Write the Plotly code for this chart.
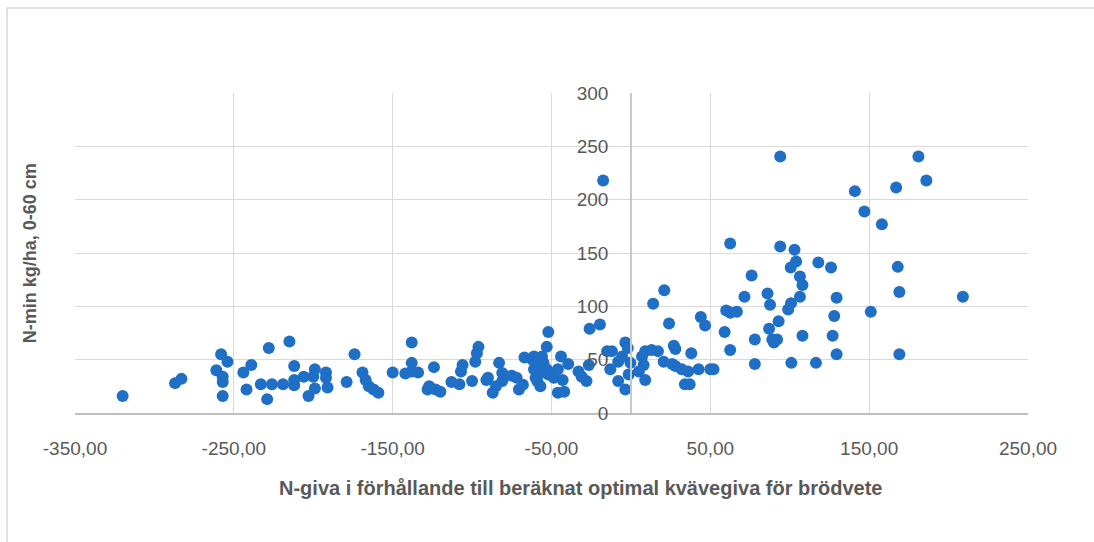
import plotly.graph_objects as go

# N-giva relative to calculated optimum (kg N/ha) and measured N-min (kg/ha, 0-60 cm)
n_giva_diff = [
    -320, -287, -283, -258, -254, -261, -257, -257, -257, -244, -239, -242,
    -233, -228, -229, -215, -226, -219, -212, -212, -212, -206, -200, -199,
    -203, -199, -192, -192, -191, -179, -174, -169, -167, -165, -162, -159,
    -150, -142, -138, -138, -138, -134, -128, -124, -127, -123, -120, -113,
    -107, -106, -108, -100, -98, -97, -96, -91, -90, -87, -85, -83,
    -81, -81, -75, -72, -70.5, -68, -67, -62, -61, -61, -60, -59,
    -56, -57, -59, -57, -55, -53, -52, -52, -53, -48.5, -46, -43,
    -44, -39.5, -46, -42, -33, -31, -28, -26.5, -26, -19.5, -17.5, -15,
    -12, -13, -8, -5.5, -8, -3.5, -3.5, -2, -0.3, -1.4, 7, 8,
    5, 9,
    9, 13, 17, 14, 21, 24, 20.6, 26, 28, 27, 28, 32,
    36, 34, 37, 38, 42.6, 44, 46.7, 50, 52, 59, 60, 62.5,
    66.7, 62.5, 62.5, 71.5, 76, 78, 78, 86, 87.6, 87, 89, 92,
    90, 93, 94, 94, 103, 104, 100.6, 106.4, 108, 106.4, 100.8, 99,
    108, 101, 116.5, 118, 126, 129.5, 128, 127, 129.5, 141, 147, 151,
    158, 167, 168, 169, 169, 181, 186, 209,
]
n_min = [
    16, 28, 32, 55, 48, 40, 34, 29, 16, 38, 45, 22,
    27, 61, 13, 67, 27, 27, 44, 26, 31, 34, 34, 41,
    16, 23, 38, 33, 24, 29, 55, 38, 31, 25, 22, 19,
    38, 37, 66, 47, 39, 38, 22, 43, 25, 22, 20, 29,
    39, 45, 27, 30, 48, 56, 62, 31, 33, 19, 25, 47,
    37.5, 30, 35, 33, 22, 26.5, 52, 50, 41, 53, 33, 47,
    53, 37.5, 30, 25, 47, 41, 36, 76, 62, 33, 41, 31,
    53, 46, 19, 20, 39, 34, 30, 45, 79, 83, 218, 58,
    58, 41, 48, 53, 30, 22, 66, 61, 47, 36, 53, 45,
    39, 31,
    58, 59, 58, 102.5, 115, 84, 48, 46, 44, 63, 60, 41,
    39, 27, 27, 56, 41, 90, 82, 41, 41, 76, 96, 94,
    95, 59, 159, 109, 129, 69, 46, 112, 101.5, 79, 69, 69,
    66, 86, 240.5, 156, 153, 142, 136.5, 128, 120, 109, 103, 97,
    72.5, 47, 47, 141, 136.5, 108, 91, 72.5, 55, 208, 189, 95,
    177, 211.5, 137, 113.4, 55, 240.5, 218, 109,
]

x_ticks = [-350, -250, -150, -50, 50, 150, 250]
x_tick_text = ["-350,00", "-250,00", "-150,00", "-50,00", "50,00", "150,00", "250,00"]
y_ticks = [0, 50, 100, 150, 200, 250, 300]

x_title = "N-giva i förhållande till beräknat optimal kvävegiva för brödvete"
y_title = "N-min kg/ha, 0-60 cm"

FONT = "Liberation Sans, Arial, sans-serif"
TEXT = "#595959"
GRID = "#d9d9d9"

fig = go.Figure(
    go.Scatter(
        x=n_giva_diff,
        y=n_min,
        mode="markers",
        marker=dict(size=12, color="#1e6fc5", line=dict(width=0)),
        hoverinfo="x+y",
    )
)

fig.update_layout(
    width=1094,
    height=542,
    margin=dict(l=75, r=66, t=93, b=129),
    paper_bgcolor="white",
    plot_bgcolor="white",
    showlegend=False,
    font=dict(family=FONT, color=TEXT, size=19),
    xaxis=dict(
        range=[-350, 250],
        tickvals=x_ticks,
        ticktext=x_tick_text,
        showgrid=True,
        gridcolor=GRID,
        gridwidth=1,
        zeroline=False,
        showline=True,
        linecolor="#bfbfbf",
        linewidth=2,
        ticks="",
        ticklabelstandoff=17,
        tickfont=dict(size=19, color=TEXT),
        fixedrange=True,
    ),
    yaxis=dict(
        range=[0, 300],
        tickvals=y_ticks,
        showgrid=True,
        gridcolor=GRID,
        gridwidth=1,
        zeroline=False,
        showline=True,
        linecolor="#c8c8c8",
        linewidth=1.5,
        anchor="free",
        position=350 / 600,
        ticks="",
        ticklabelstandoff=18,
        tickfont=dict(size=19, color=TEXT),
        fixedrange=True,
    ),
    annotations=[
        dict(
            text=f"<b>{x_title}</b>",
            xref="paper", yref="paper",
            x=0.531, y=-0.234,
            xanchor="center", yanchor="middle",
            showarrow=False,
            font=dict(size=20, color=TEXT, family=FONT),
        ),
        dict(
            text=f"<b>{y_title}</b>",
            xref="paper", yref="paper",
            x=-0.047, y=0.5,
            xanchor="center", yanchor="middle",
            textangle=-90,
            showarrow=False,
            font=dict(size=18, color=TEXT, family=FONT),
        ),
    ],
    shapes=[
        dict(
            type="rect",
            xref="paper", yref="paper",
            x0=-0.0714, y0=-0.6, x1=1.2, y1=1.2656,
            line=dict(color="#d9d9d9", width=1.5),
            fillcolor="rgba(0,0,0,0)",
            layer="below",
        )
    ],
)

fig.write_html("out.html")
